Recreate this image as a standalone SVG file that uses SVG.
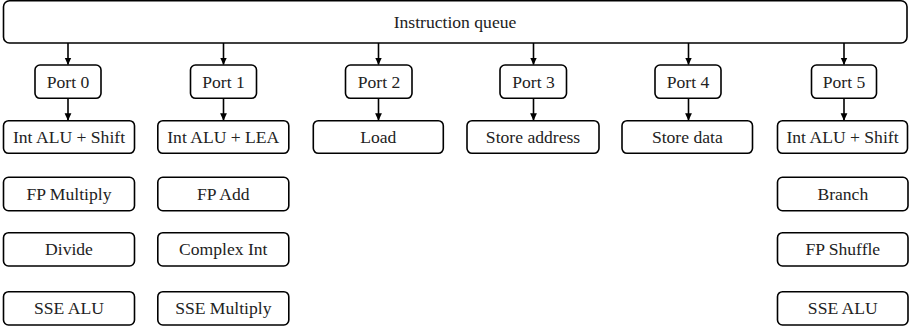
<svg xmlns="http://www.w3.org/2000/svg" width="910" height="330" viewBox="0 0 910 330" font-family="Liberation Serif, DejaVu Serif, serif">
  <style>
    .box { fill: #ffffff; stroke: #000000; stroke-width: 1.6; }
    .lbl { font-family: Liberation Serif, DejaVu Serif, serif; font-size: 17.6px; fill: #222222; text-anchor: middle; }
    .edge { stroke: #000000; stroke-width: 1.6; fill: none; marker-end: url(#arr); }
  </style>
  <defs>
    <marker id="arr" markerWidth="8" markerHeight="8" refX="7" refY="4" orient="auto" markerUnits="userSpaceOnUse">
      <path d="M0,0.6 L7.5,4 L0,7.4 Z" fill="#000000"/>
    </marker>
  </defs>

  <rect width="910" height="330" fill="#ffffff"/>

  <!-- issue queue across the top -->
  <g id="queue">
    <rect class="box" x="3.5" y="0.8" width="903.5" height="42.2" rx="6"/>
    <text class="lbl" x="455" y="27.5">Instruction queue</text>
  </g>

  <!-- connectors: queue to ports, ports to first unit -->
  <g id="connectors">
    <path class="edge" d="M68,43 V64.5"/>
    <path class="edge" d="M223.5,43 V64.5"/>
    <path class="edge" d="M378.5,43 V64.5"/>
    <path class="edge" d="M533.5,43 V64.5"/>
    <path class="edge" d="M688.5,43 V64.5"/>
    <path class="edge" d="M844,43 V64.5"/>
    <path class="edge" d="M68,98.3 V120.2"/>
    <path class="edge" d="M223.5,98.3 V120.2"/>
    <path class="edge" d="M378.5,98.3 V120.2"/>
    <path class="edge" d="M533.5,98.3 V120.2"/>
    <path class="edge" d="M688.5,98.3 V120.2"/>
    <path class="edge" d="M844,98.3 V120.2"/>
  </g>

  <!-- ports -->
  <g id="port0"><rect class="box" x="35" y="65" width="66" height="33.3" rx="5"/><text class="lbl" x="68" y="87.5">Port 0</text></g>
  <g id="port1"><rect class="box" x="190.5" y="65" width="66" height="33.3" rx="5"/><text class="lbl" x="223.5" y="87.5">Port 1</text></g>
  <g id="port2"><rect class="box" x="345.5" y="65" width="66.5" height="33.3" rx="5"/><text class="lbl" x="379" y="87.5">Port 2</text></g>
  <g id="port3"><rect class="box" x="500" y="65" width="66.5" height="33.3" rx="5"/><text class="lbl" x="533.5" y="87.5">Port 3</text></g>
  <g id="port4"><rect class="box" x="655" y="65" width="66" height="33.3" rx="5"/><text class="lbl" x="688" y="87.5">Port 4</text></g>
  <g id="port5"><rect class="box" x="811.5" y="65" width="65" height="33.3" rx="5"/><text class="lbl" x="844" y="87.5">Port 5</text></g>

  <!-- port 0 units -->
  <g id="p0-alu"><rect class="box" x="3.5" y="120.7" width="131" height="32.6" rx="5"/><text class="lbl" x="69" y="143">Int ALU + Shift</text></g>
  <g id="p0-fpmul"><rect class="box" x="3.5" y="177.3" width="131" height="33.4" rx="5"/><text class="lbl" x="69" y="200">FP Multiply</text></g>
  <g id="p0-div"><rect class="box" x="3.5" y="232.7" width="131" height="33.3" rx="5"/><text class="lbl" x="69" y="255.4">Divide</text></g>
  <g id="p0-sse"><rect class="box" x="3.5" y="291.7" width="131" height="33.3" rx="5"/><text class="lbl" x="69" y="314.4">SSE ALU</text></g>

  <!-- port 1 units -->
  <g id="p1-alu"><rect class="box" x="157.8" y="120.7" width="131" height="32.6" rx="5"/><text class="lbl" x="223.3" y="143">Int ALU + LEA</text></g>
  <g id="p1-fpadd"><rect class="box" x="157.8" y="177.3" width="131" height="33.4" rx="5"/><text class="lbl" x="223.3" y="200">FP Add</text></g>
  <g id="p1-cint"><rect class="box" x="157.8" y="232.7" width="131" height="33.3" rx="5"/><text class="lbl" x="223.3" y="255.4">Complex Int</text></g>
  <g id="p1-ssemul"><rect class="box" x="157.8" y="291.7" width="131" height="33.3" rx="5"/><text class="lbl" x="223.3" y="314.4">SSE Multiply</text></g>

  <!-- ports 2-4 units -->
  <g id="p2-load"><rect class="box" x="313.3" y="120.7" width="130" height="32.6" rx="5"/><text class="lbl" x="378.3" y="143">Load</text></g>
  <g id="p3-staddr"><rect class="box" x="467" y="120.7" width="132" height="32.6" rx="5"/><text class="lbl" x="533" y="143">Store address</text></g>
  <g id="p4-stdata"><rect class="box" x="622" y="120.7" width="130.5" height="32.6" rx="5"/><text class="lbl" x="687.3" y="143">Store data</text></g>

  <!-- port 5 units -->
  <g id="p5-alu"><rect class="box" x="777.5" y="120.7" width="130" height="32.6" rx="5"/><text class="lbl" x="842.5" y="143">Int ALU + Shift</text></g>
  <g id="p5-branch"><rect class="box" x="777.5" y="177.3" width="130.5" height="33.4" rx="5"/><text class="lbl" x="842.8" y="200">Branch</text></g>
  <g id="p5-shuf"><rect class="box" x="777.5" y="232.7" width="130.5" height="33.3" rx="5"/><text class="lbl" x="842.8" y="255.4">FP Shuffle</text></g>
  <g id="p5-sse"><rect class="box" x="777.5" y="291.7" width="130.5" height="33.3" rx="5"/><text class="lbl" x="842.8" y="314.4">SSE ALU</text></g>
</svg>
